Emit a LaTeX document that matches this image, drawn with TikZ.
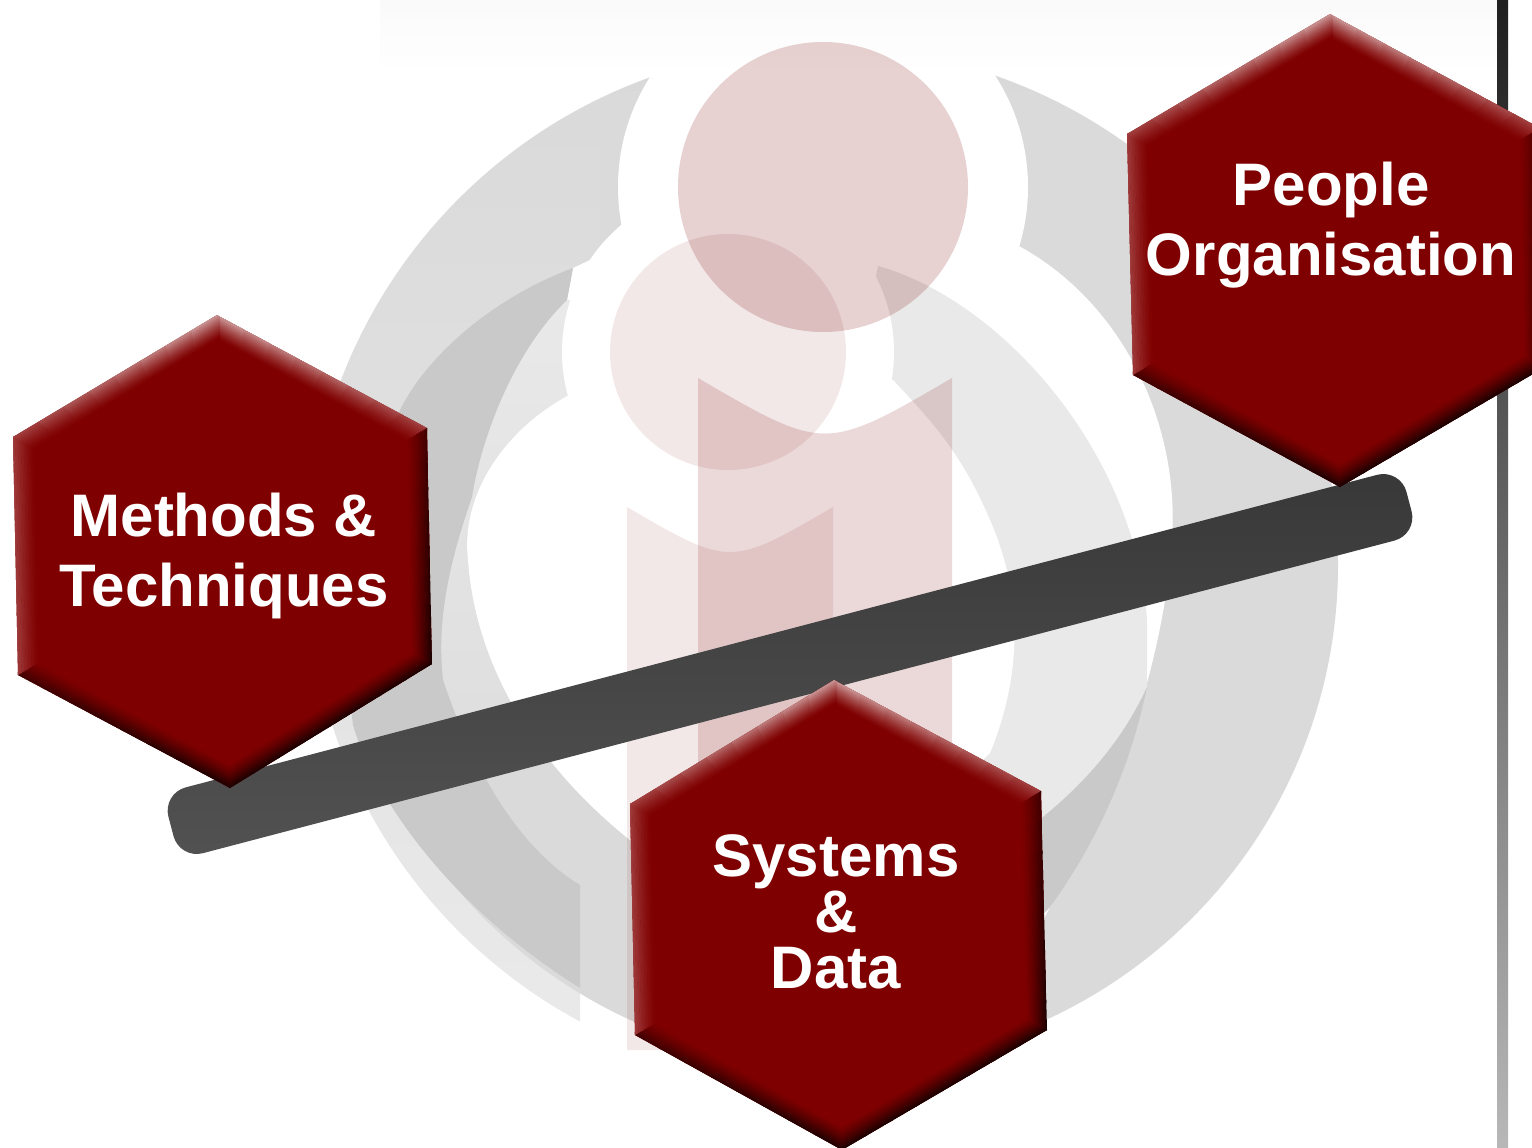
\documentclass[tikz,border=0pt]{standalone}
\usepackage{fontspec}
\setmainfont{Liberation Sans}
\usetikzlibrary{calc, positioning}
\definecolor{hexred}{HTML}{7F0000}
\definecolor{ringmid}{HTML}{DADADA}
\definecolor{ringlight}{HTML}{E9E9E9}
\definecolor{ringdark}{HTML}{C9C9C9}
\definecolor{bevelhi}{HTML}{D0A0A0}
\definecolor{bevelmid}{HTML}{A03C3C}
\definecolor{bevellow}{HTML}{400000}
\definecolor{beveldark}{HTML}{180000}

% one bevelled side of a hexagon: from, to, centre, colour at from, colour at to
\newcommand{\bevelside}[5]{
    \foreach \s in {0,...,7}{
        \pgfmathsetmacro{\sa}{\s/8}
        \pgfmathsetmacro{\sb}{(\s+1.1)/8}
        \pgfmathsetmacro{\mixc}{100-100*(\s+0.5)/8}
        \foreach \t in {0,...,15}{
            \pgfmathsetmacro{\ins}{\t/15*0.105}
            \pgfmathsetmacro{\pct}{100*(1-\t/15)^1.3}
            \draw[line width=0.9pt, color={#4!\mixc!#5!\pct!hexred}]
                ($($(#1)!\sa!(#2)$)!\ins!(#3)$) -- ($($(#1)!\sb!(#2)$)!\ins!(#3)$);
        }
    }
}
% hexagon from six named corners (top, ur, lr, bot, ll, ul) with prefix #1
\newcommand{\hexblock}[1]{
    \begin{scope}
        \path[clip] (#1_top) -- (#1_ur) -- (#1_lr) -- (#1_bot) -- (#1_ll) -- (#1_ul) -- cycle;
        \fill[hexred] (#1_top) -- (#1_ur) -- (#1_lr) -- (#1_bot) -- (#1_ll) -- (#1_ul) -- cycle;
        \coordinate (#1_mid) at ($(#1_top)!0.5!(#1_bot)$);
        \bevelside{#1_top}{#1_ur}{#1_mid}{bevelhi}{bevelmid}
        \bevelside{#1_ur}{#1_lr}{#1_mid}{bevellow}{beveldark}
        \bevelside{#1_lr}{#1_bot}{#1_mid}{beveldark}{beveldark}
        \bevelside{#1_bot}{#1_ll}{#1_mid}{beveldark}{bevellow}
        \bevelside{#1_ll}{#1_ul}{#1_mid}{bevelmid}{bevelmid}
        \bevelside{#1_ul}{#1_top}{#1_mid}{bevelmid}{bevelhi}
    \end{scope}
}

\begin{document}
\begin{tikzpicture}[
    x=0.5pt, y=-0.5pt,
    hex_label/.style={
        text=white, align=center, font=\fontsize{30}{35}\selectfont\bfseries
    },
    beam/.style={
        rounded corners=12pt, minimum width=640pt, minimum height=34pt, inner sep=0pt,
        top color=black!78, bottom color=black!68, rotate=14.7
    },
    head_one/.style={fill=hexred, fill opacity=0.18},
    stem_one/.style={fill=hexred, fill opacity=0.15},
    logo_two/.style={fill=hexred, fill opacity=0.09}
]
    \useasboundingbox (0,0) rectangle (1532,1147);
    \fill[white] (0,0) rectangle (1532,1147);

    % --- OUTER RINGS ---
    \begin{scope}
        \clip (0,0) rectangle (580,1147) (0,0) rectangle (1532,450);
        \shade[top color=black!15, bottom color=black!8] (825,565) circle (518);
    \end{scope}
    \begin{scope}
        \clip (0,500) rectangle (1532,1147) (600,0) rectangle (1532,1147);
        \fill[ringmid] (838,565) circle (500);
    \end{scope}

    % --- WHITE INSIDE, RIGHT AND TOP ---
    \fill[white] (1017,245) .. controls (1120,300) and (1180,420) .. (1172,540)
        .. controls (1165,650) and (1120,800) .. (1050,907)
        -- (1000,1000) -- (650,700) -- (650,150) -- (850,100) -- cycle;
    \fill[white] (573,268) -- (633,240) -- (650,235) -- (650,300) -- (567,300) -- cycle;
    \fill[white] (823,187) circle (205);

    % --- DARK OVERLAP AND LIGHT WEDGE, LEFT ---
    \shade[top color=ringlight, bottom color=black!13] (443,680)
        .. controls (436,620) and (450,560) .. (472,497)
        .. controls (480,445) and (510,355) .. (567,300)
        -- (600,300) -- (600,500) -- (560,760) -- (470,760) -- cycle;
    \fill[ringdark] (573,268) .. controls (500,295) and (430,350) .. (400,410)
        -- (345,520) -- (343,640) -- (353,725)
        .. controls (372,790) and (440,900) .. (580,988)
        -- (580,885) .. controls (530,855) and (480,790) .. (443,680)
        .. controls (436,620) and (450,560) .. (472,497)
        .. controls (480,445) and (510,355) .. (567,300) -- cycle;

    % --- LIGHT RING AND CRESCENT, RIGHT ---
    \fill[ringlight] (878,266) .. controls (1000,300) and (1135,450) .. (1147,620)
        -- (1147,687) .. controls (1120,745) and (1080,790) .. (1020,835)
        -- (850,700) -- (860,360) -- cycle;
    \fill[ringdark] (1147,687) .. controls (1130,770) and (1095,845) .. (1050,907)
        -- (1020,940) -- (1000,850) -- (1020,835)
        .. controls (1080,790) and (1120,745) .. (1147,687) -- cycle;

    % --- WHITE INSIDE ---
    \fill[white] (573,393) .. controls (510,425) and (460,490) .. (468,560)
        .. controls (475,660) and (530,760) .. (630,840)
        .. controls (680,880) and (760,900) .. (860,880) -- (990,753)
        .. controls (1020,680) and (1025,600) .. (990,520)
        .. controls (960,450) and (930,420) .. (893,380) -- (730,340) -- cycle;
    \fill[white] (728,352) circle (166);

    % --- FADED BAND (Top) ---
    \shade[top color=black!3, bottom color=white, fill opacity=0.6] (380,0) rectangle (1497,70);

    % --- LOGO FIGURES ---
    \fill[stem_one] (952,378) .. controls (825,452) .. (698,378) -- (698,900) -- (952,900) -- cycle;
    \fill[logo_two] (833,507) .. controls (730,567) .. (627,507) -- (627,1050) -- (833,1050) -- cycle;
    \fill[head_one] (823,187) circle (145);
    \fill[logo_two] (728,352) circle (118);

    % --- VERTICAL RULE ---
    \shade[top color=black!88, bottom color=black!28] (1497,0) rectangle (1508,1147);

    % --- BEAM ---
    \node[beam] (bar) at (790,664) {};

    % --- HEXAGONS ---
    \coordinate (methods_top) at (217,315);
    \coordinate (methods_ur) at (427,428);
    \coordinate (methods_lr) at (432,664);
    \coordinate (methods_bot) at (230,788);
    \coordinate (methods_ll) at (18,675);
    \coordinate (methods_ul) at (13,437);
    \hexblock{methods}

    \coordinate (people_top) at (1330,14);
    \coordinate (people_ur) at (1540,128);
    \coordinate (people_lr) at (1545,367);
    \coordinate (people_bot) at (1340,487);
    \coordinate (people_ll) at (1133,375);
    \coordinate (people_ul) at (1127,134);
    \hexblock{people}

    \coordinate (systems_top) at (834,680);
    \coordinate (systems_ur) at (1041,791);
    \coordinate (systems_lr) at (1047,1030);
    \coordinate (systems_bot) at (842,1150);
    \coordinate (systems_ll) at (635,1035);
    \coordinate (systems_ul) at (630,804);
    \hexblock{systems}

    % --- LABELS ---
    \node[hex_label] (methods_label) at (224,556) {Methods \&\\Techniques};
    \node[hex_label] (people_label) at (1331,225) {People\\Organisation};
    \node[hex_label, font=\fontsize{30}{28}\selectfont\bfseries] (systems_label) at (836,912) {Systems\\\&\\Data};

\end{tikzpicture}
\end{document}
